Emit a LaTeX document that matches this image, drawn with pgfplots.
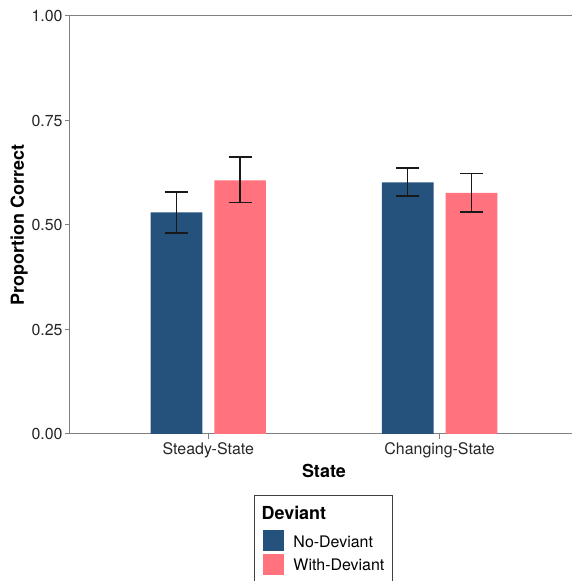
\documentclass[border=0pt]{standalone}
\usepackage{pgfplots}
\pgfplotsset{compat=1.18}
\usepackage{fontspec}
\setmainfont{TeX Gyre Heros}
\definecolor{navyc}{RGB}{36,82,124}
\definecolor{pinkc}{RGB}{255,114,126}
\definecolor{axgray}{RGB}{128,128,128}
\pgfplotstableread{
x y ep em
0.8625 0.530 0.049 0.049
1.8625 0.602 0.034 0.033
}\nodev
\pgfplotstableread{
x y ep em
1.1375 0.607 0.056 0.054
2.1375 0.577 0.046 0.046
}\withdev
\begin{document}
\begin{tikzpicture}[x=1bp,y=1bp]
\path[use as bounding box, clip] (0,0) rectangle (572,581);
\begin{axis}[
  at={(69.5bp,147bp)}, anchor=south west,
  scale only axis, width=508.9bp, height=418bp,
  xmin=0.4, xmax=2.6, ymin=0, ymax=1,
  axis line style={draw=axgray, line width=1bp},
  xtick={1,2}, xticklabels={Steady-State, Changing-State},
  ytick={0,0.25,0.5,0.75,1},
  /pgf/number format/assume math mode=true,
  tick align=outside, major tick length=4.7bp,
  xtick pos=left, ytick pos=left,
  tick style={draw=axgray, line width=1bp},
  tick label style={font=\fontsize{16}{19}\selectfont, text=black!85},
  yticklabel style={/pgf/number format/fixed, /pgf/number format/fixed zerofill, /pgf/number format/precision=2, anchor=east, inner sep=0pt, xshift=-2bp},
  xticklabel style={anchor=base, inner sep=0pt, yshift=-15.5bp},
  xlabel={State}, ylabel={Proportion Correct},
  label style={font=\bfseries\fontsize{18}{21}\selectfont},
  xlabel style={at={(axis description cs:0.5,-0.1029)}, anchor=base, inner sep=0pt},
  ylabel style={at={(axis description cs:-0.0988,0.5)}, anchor=center, inner sep=0pt},
  legend style={at={(axis description cs:0.3808,-0.2297)}, anchor=north west,
    draw=none, fill=none, inner sep=0pt, row sep=2.7bp, column sep=9bp,
    font=\fontsize{16}{19}\selectfont, nodes={inner sep=0pt}},
  legend cell align=left,
]
\addplot[ybar, bar width=0.2235, bar shift=0pt, fill=navyc, draw=none,
  legend image code/.code={\fill[navyc] (0bp,-9bp) rectangle (21bp,12bp);},
  error bars/.cd, y dir=both, y explicit,
  error bar style={line width=1.3bp, black!90, solid},
  error mark options={rotate=90, mark size=11.5bp, line width=1.3bp, black!90}]
  table[x=x, y=y, y error plus=ep, y error minus=em] {\nodev};
\addlegendentry{No-Deviant}
\addplot[ybar, bar width=0.2235, bar shift=0pt, fill=pinkc, draw=none,
  legend image code/.code={\fill[pinkc] (0bp,-9bp) rectangle (21bp,12bp);},
  error bars/.cd, y dir=both, y explicit,
  error bar style={line width=1.3bp, black!90, solid},
  error mark options={rotate=90, mark size=11.5bp, line width=1.3bp, black!90}]
  table[x=x, y=y, y error plus=ep, y error minus=em] {\withdev};
\addlegendentry{With-Deviant}
\end{axis}
\draw[black!75, line width=1bp] (254,-10) rectangle (392.7,85);
\node[anchor=base west, inner sep=0pt, font=\bfseries\fontsize{18}{21}\selectfont] at (261.5,61) {Deviant};
\end{tikzpicture}
\end{document}
